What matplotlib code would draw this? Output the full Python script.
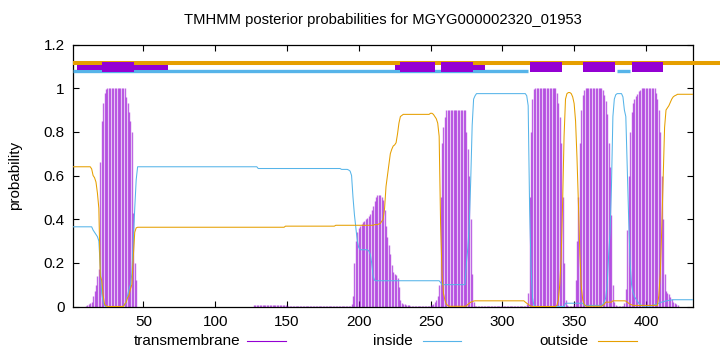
import matplotlib
matplotlib.use("Agg")
import matplotlib.pyplot as plt
from matplotlib.lines import Line2D
import numpy as np

plt.rcParams['font.family'] = ['Liberation Sans', 'DejaVu Sans']

title = "TMHMM posterior probabilities for MGYG000002320_01953"
seq_len = 433

# posterior probability per residue (1..433)
transmembrane = (
    [0.0] * 9
    + [0.003, 0.005, 0.01, 0.015, 0.02, 0.05, 0.07, 0.1, 0.14, 0.17, 0.66, 0.85, 0.93, 0.98, 0.995]
    + [1.0] * 13
    + [0.96, 0.93, 0.89, 0.85, 0.8, 0.43, 0.2, 0.12]
    + [0.0] * 81
    + [0.008] * 23
    + [0.001] * 11
    + [0.003] * 34
    + [0.01, 0.05, 0.2, 0.3, 0.34, 0.36, 0.37, 0.38, 0.385, 0.39, 0.4, 0.405, 0.415, 0.425,
       0.44, 0.46, 0.485, 0.5, 0.51, 0.51, 0.51, 0.5, 0.49, 0.44, 0.37, 0.32, 0.28, 0.24,
       0.19, 0.16, 0.15, 0.145, 0.13, 0.09, 0.03]
    + [0.015, 0.012, 0.01, 0.008, 0.006, 0.005, 0.004]
    + [0.003] * 13
    + [0.005, 0.008, 0.012, 0.02, 0.03, 0.046, 0.1, 0.5, 0.75, 0.82, 0.87]
    + [0.9] * 14
    + [0.8, 0.72, 0.6, 0.4, 0.15, 0.02]
    + [0.001] * 36
    + [0.01, 0.06, 0.5, 0.8, 0.95, 0.995]
    + [1.0] * 15
    + [0.98, 0.93, 0.87, 0.75, 0.5, 0.2, 0.03, 0.005]
    + [0.002] * 4
    + [0.01, 0.12, 0.3, 0.5, 0.75, 0.9, 0.97, 0.99]
    + [1.0] * 12
    + [0.99, 0.97, 0.94, 0.88, 0.75, 0.64, 0.42, 0.1, 0.02, 0.005]
    + [0.001] * 5
    + [0.015, 0.08, 0.35, 0.6, 0.8, 0.89, 0.93, 0.95, 0.965, 0.975, 0.985, 0.99]
    + [1.0] * 10
    + [0.98, 0.95, 0.9, 0.8, 0.6, 0.4, 0.15, 0.07, 0.06, 0.055, 0.045, 0.035, 0.02, 0.015, 0.01, 0.005]
    + [0.0] * 11
)

inside = (
    [0.365] * 14
    + [0.35, 0.34, 0.33, 0.32, 0.3, 0.18, 0.06, 0.02, 0.005]
    + [0.0] * 13
    + [0.01, 0.02, 0.05, 0.08, 0.1, 0.15, 0.3, 0.45, 0.58]
    + [0.64] * 84
    + [0.632] * 58
    + [0.628, 0.628, 0.628, 0.628, 0.628, 0.625, 0.62]
    + [0.6, 0.5, 0.42, 0.36, 0.3, 0.27, 0.26, 0.26, 0.26, 0.26, 0.26, 0.26, 0.255, 0.24, 0.2, 0.14, 0.12]
    + [0.118] * 45
    + [0.11, 0.1]
    + [0.1] * 16
    + [0.2, 0.27, 0.38, 0.58, 0.83, 0.95, 0.965]
    + [0.975] * 35
    + [0.965, 0.92, 0.45, 0.18, 0.04, 0.005, 0.002]
    + [0.0] * 20
    + [0.015] * 13
    + [0.005] * 13
    + [0.01, 0.02, 0.04, 0.1, 0.23, 0.34, 0.55, 0.87, 0.95, 0.97, 0.975, 0.975, 0.975, 0.975, 0.96]
    + [0.9, 0.87, 0.64, 0.4, 0.2, 0.1, 0.065, 0.045, 0.035, 0.025, 0.015, 0.01, 0.005]
    + [0.002] * 7
    + [0.005, 0.008, 0.01, 0.012, 0.015, 0.018, 0.02, 0.022, 0.024, 0.025, 0.027, 0.028, 0.029, 0.03]
    + [0.031] * 15
)

outside = (
    [0.64] * 13
    + [0.63, 0.6, 0.59, 0.57, 0.52, 0.45, 0.14, 0.12, 0.05, 0.01, 0.003]
    + [0.0] * 12
    + [0.01, 0.02, 0.04, 0.05, 0.08, 0.1, 0.23, 0.34, 0.36]
    + [0.363] * 103
    + [0.368] * 35
    + [0.372] * 27
    + [0.375, 0.375, 0.375, 0.378, 0.38, 0.39, 0.4, 0.45, 0.55, 0.6, 0.65, 0.7, 0.72, 0.735,
       0.74, 0.75, 0.79, 0.84, 0.87]
    + [0.875] + [0.88] * 19
    + [0.885, 0.885, 0.88, 0.87, 0.86, 0.84, 0.78, 0.38, 0.15, 0.06, 0.03, 0.01, 0.005]
    + [0.001] * 12
    + [0.003, 0.01, 0.015, 0.02, 0.022, 0.025, 0.026]
    + [0.026] * 34
    + [0.02]
    + [0.015, 0.01, 0.005, 0.002]
    + [0.0] * 17
    + [0.005, 0.03, 0.1, 0.23, 0.48, 0.78, 0.95, 0.975, 0.98, 0.98, 0.975, 0.96, 0.93, 0.85,
       0.68, 0.47, 0.24, 0.09, 0.03, 0.01, 0.003]
    + [0.001] * 11
    + [0.005, 0.01, 0.02, 0.02, 0.02, 0.02, 0.02, 0.026, 0.026, 0.026, 0.026, 0.026, 0.026,
       0.026, 0.026, 0.026, 0.025]
    + [0.02, 0.015, 0.01, 0.008]
    + [0.005] * 18
    + [0.05, 0.15, 0.35, 0.58, 0.82, 0.9, 0.91, 0.92, 0.935, 0.95, 0.96, 0.965, 0.968]
    + [0.972] * 12
)

# predicted topology strip at the top (residue ranges)
outside_strip = [(1, 452)]
inside_strip = [(1, 318), (380, 389)]
tm_thin = [(4, 67), (225, 253), (258, 288)]
tm_boxes = [(21, 43.5), (229, 253.4), (257.6, 279.7), (319.5, 341.5), (356.4, 378.2), (390.3, 412.2)]

x_ticks = [50, 100, 150, 200, 250, 300, 350, 400]
y_ticks = [0, 0.2, 0.4, 0.6, 0.8, 1.0, 1.2]
y_ticklabels = ["0", "0.2", "0.4", "0.6", "0.8", "1", "1.2"]

C_TM = "#9400D3"
C_IN = "#56B4E9"
C_OUT = "#E69F00"
FS = 11

pos = np.arange(1, seq_len + 1)

fig = plt.figure(figsize=(7.2, 3.52), dpi=100)
W, H = 720, 352
left, right, top, bottom = 73, 693.3, 44.5, 306.5
ax = fig.add_axes([left / W, 1 - bottom / H, (right - left) / W, (bottom - top) / H])

ax.vlines(pos, 0, transmembrane, color=C_TM, linewidth=1.0, alpha=0.6, zorder=2)
ax.plot(pos, inside, color=C_IN, linewidth=0.75, zorder=3)
ax.plot(pos, outside, color=C_OUT, linewidth=0.75, zorder=3)

for a, b in outside_strip:
    ax.plot([a, b], [1.117, 1.117], color=C_OUT, linewidth=2.9, solid_capstyle='butt',
            clip_on=False, zorder=4)
for a, b in inside_strip:
    ax.plot([a, b], [1.078, 1.078], color=C_IN, linewidth=2.4, solid_capstyle='butt', zorder=4)
ax.broken_barh([(a, b - a) for a, b in tm_thin], (1.081, 0.026), facecolor=C_TM,
               edgecolor='none', zorder=5)
ax.broken_barh([(a, b - a) for a, b in tm_boxes], (1.073, 0.047), facecolor=C_TM,
               edgecolor='none', zorder=6)

ax.set_xlim(1, seq_len)
ax.set_ylim(0, 1.2)
ax.set_xticks(x_ticks)
ax.set_yticks(y_ticks)
ax.set_yticklabels(y_ticklabels)
ax.tick_params(direction='in', length=4, width=0.8, top=True, right=True,
               labelsize=FS, pad=6)
for s in ax.spines.values():
    s.set_linewidth(0.9)

fig.text(383 / W, 1 - 20 / H, title, ha='center', va='center', fontsize=10.6)
fig.text(15 / W, 1 - 175 / H, "probability", rotation=90, ha='center', va='center', fontsize=FS)

legend_items = [("transmembrane", C_TM, 240, 247, 286),
                ("inside", C_IN, 413, 423, 461),
                ("outside", C_OUT, 589, 598, 637)]
ly = 1 - 341 / H
for label, col, tx, x0, x1 in legend_items:
    fig.text(tx / W, ly, label, ha='right', va='center', fontsize=FS)
    fig.add_artist(Line2D([x0 / W, x1 / W], [ly, ly], color=col, linewidth=0.8))

fig.savefig("out.png", dpi=100)
